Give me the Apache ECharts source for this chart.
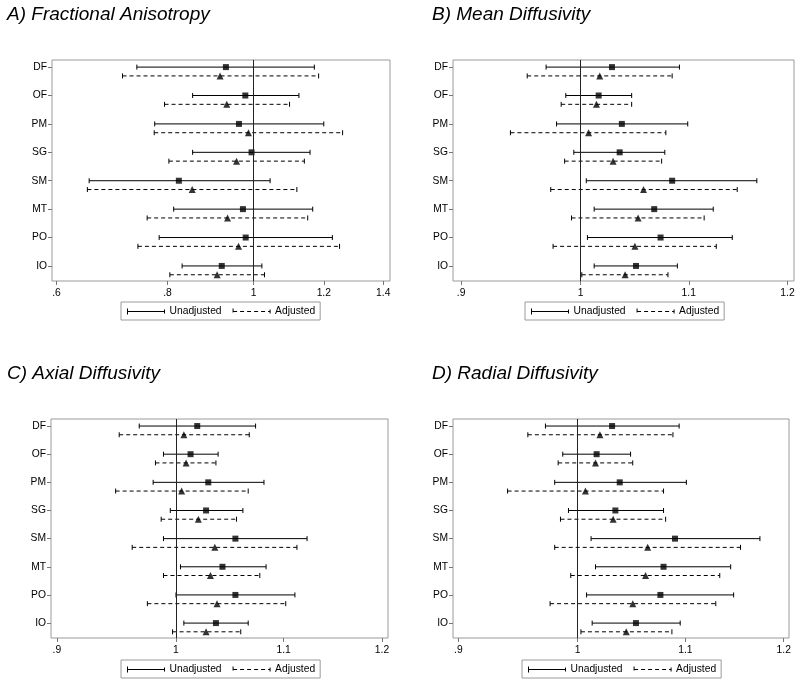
<!DOCTYPE html>
<html><head><meta charset="utf-8">
<script src="https://cdn.jsdelivr.net/npm/echarts@6/dist/echarts.min.js"></script>
<style>html,body{margin:0;padding:0;background:#fff}#c{width:800px;height:685px}</style>
</head><body><div id="c"></div>
<script>
// ---- data ----
const categories = ['DF','OF','PM','SG','SM','MT','PO','IO'];
const legendNames = ['Unadjusted','Adjusted'];
const panelTitles = ['A) Fractional Anisotropy','B) Mean Diffusivity','C) Axial Diffusivity','D) Radial Diffusivity'];
const ticksA = [0.6, 0.8, 1, 1.2, 1.4];
const ticksBCD = [0.9, 1, 1.1, 1.2];
// each row: [estimate, lower CI, upper CI], in category order
const faUnadj = [[0.931,0.739,1.171],[0.979,0.854,1.125],[0.963,0.774,1.200],[0.995,0.854,1.158],[0.824,0.653,1.044],[0.973,0.813,1.166],[0.980,0.783,1.227],[0.921,0.831,1.022]];
const faAdj   = [[0.917,0.712,1.184],[0.933,0.794,1.098],[0.987,0.773,1.260],[0.957,0.803,1.141],[0.853,0.650,1.119],[0.935,0.759,1.151],[0.962,0.741,1.250],[0.910,0.805,1.029]];
const mdUnadj = [[1.028,0.970,1.091],[1.016,0.987,1.046],[1.037,0.979,1.099],[1.035,0.994,1.077],[1.084,1.005,1.168],[1.067,1.012,1.124],[1.073,1.006,1.143],[1.050,1.012,1.089]];
const mdAdj   = [[1.017,0.954,1.084],[1.014,0.983,1.046],[1.007,0.940,1.078],[1.029,0.986,1.074],[1.057,0.974,1.148],[1.052,0.992,1.115],[1.049,0.976,1.127],[1.040,1.001,1.080]];
const adUnadj = [[1.019,0.968,1.073],[1.013,0.989,1.038],[1.029,0.980,1.081],[1.027,0.995,1.061],[1.054,0.989,1.123],[1.042,1.004,1.083],[1.054,1.000,1.111],[1.036,1.007,1.066]];
const adAdj   = [[1.007,0.951,1.067],[1.009,0.982,1.036],[1.005,0.948,1.066],[1.020,0.987,1.055],[1.035,0.962,1.113],[1.031,0.989,1.077],[1.037,0.975,1.102],[1.027,0.997,1.059]];
const rdUnadj = [[1.031,0.972,1.094],[1.017,0.987,1.048],[1.038,0.980,1.101],[1.034,0.992,1.079],[1.090,1.012,1.175],[1.079,1.016,1.145],[1.076,1.008,1.148],[1.053,1.013,1.095]];
const rdAdj   = [[1.020,0.957,1.088],[1.016,0.983,1.050],[1.007,0.940,1.079],[1.032,0.985,1.081],[1.064,0.980,1.155],[1.062,0.994,1.134],[1.050,0.976,1.130],[1.044,1.003,1.087]];

// ---- layout ----
const FONT = '"Liberation Sans", Arial, sans-serif';
const panels = [
  {title: panelTitles[0], un: faUnadj, ad: faAdj, ticks: ticksA, min: 0.5930, max: 1.4248,
   grid: {left: 52, top: 60, width: 338, height: 221}, tl: 7, tt: 5, lg: {left: 121, top: 302}},
  {title: panelTitles[1], un: mdUnadj, ad: mdAdj, ticks: ticksBCD, min: 0.8936, max: 1.2069,
   grid: {left: 453, top: 60, width: 341, height: 221}, tl: 432, tt: 5, lg: {left: 525, top: 302}},
  {title: panelTitles[2], un: adUnadj, ad: adAdj, ticks: ticksBCD, min: 0.8953, max: 1.2064,
   grid: {left: 51, top: 419, width: 337, height: 219}, tl: 7, tt: 364, lg: {left: 121, top: 660}},
  {title: panelTitles[3], un: rdUnadj, ad: rdAdj, ticks: ticksBCD, min: 0.8957, max: 1.2056,
   grid: {left: 453, top: 419, width: 336, height: 219}, tl: 432, tt: 364, lg: {left: 522, top: 660}}
];
const ROW_OFFSET = 0.31;

function makeRender(dashed) {
  return function (params, api) {
    const y = api.value(2);
    const p1 = api.coord([api.value(0), y]);
    const p2 = api.coord([api.value(1), y]);
    const h = 2.5;
    const st = {stroke: '#000', lineWidth: 1};
    return {type: 'group', children: [
      {type: 'line', shape: {x1: p1[0], y1: p1[1], x2: p2[0], y2: p2[1]},
       style: Object.assign({}, st, dashed ? {lineDash: [4, 3]} : {})},
      {type: 'line', shape: {x1: p1[0], y1: p1[1] - h, x2: p1[0], y2: p1[1] + h}, style: st},
      {type: 'line', shape: {x1: p2[0], y1: p2[1] - h, x2: p2[0], y2: p2[1] + h}, style: st}
    ]};
  };
}

const option = {
  animation: false,
  backgroundColor: '#fff',
  title: [], grid: [], xAxis: [], yAxis: [], series: [], legend: []
};

const iconPath = 'path://M0,0L0,6M0,3L37,3M37,1L37,5';

panels.forEach((p, k) => {
  option.title.push({text: p.title, left: p.tl, top: p.tt, padding: 0,
    textStyle: {fontFamily: FONT, fontSize: 19, fontStyle: 'italic', fontWeight: 'normal', color: '#000'}});
  option.grid.push(Object.assign({show: true, borderColor: '#9a9a9a', borderWidth: 1, backgroundColor: '#fff'}, p.grid));
  option.xAxis.push({
    type: 'log', gridIndex: k, min: p.min, max: p.max, position: 'bottom',
    axisLine: {show: false, onZero: false},
    axisTick: {show: true, length: 4, customValues: p.ticks, lineStyle: {color: '#777'}},
    axisLabel: {customValues: p.ticks, margin: 7, fontFamily: FONT, fontSize: 10.3, color: '#000',
      formatter: v => String(+v.toFixed(3)).replace(/^0\./, '.')},
    splitLine: {show: false}, minorTick: {show: false}
  });
  option.yAxis.push({
    type: 'value', gridIndex: k, inverse: true, min: -0.25, max: 7.53, position: 'left',
    axisLine: {show: false, onZero: false},
    axisTick: {show: true, length: 4, customValues: categories.map((c, i) => i), lineStyle: {color: '#777'}},
    axisLabel: {customValues: categories.map((c, i) => i), margin: 5, fontFamily: FONT, fontSize: 10.3, color: '#000',
      formatter: v => categories[Math.round(v)]},
    splitLine: {show: false}
  });
  const unBars = p.un.map((r, i) => [r[1], r[2], i]);
  const adBars = p.ad.map((r, i) => [r[1], r[2], i + ROW_OFFSET]);
  option.series.push({
    name: legendNames[0], type: 'custom', xAxisIndex: k, yAxisIndex: k,
    renderItem: makeRender(false), encode: {x: [0, 1], y: 2}, data: unBars,
    itemStyle: {color: '#000'},
    markLine: {silent: true, symbol: 'none', label: {show: false}, animation: false,
      lineStyle: {color: '#222', width: 1, type: 'solid'}, data: [{xAxis: 1}]}
  });
  option.series.push({
    name: legendNames[1], type: 'custom', xAxisIndex: k, yAxisIndex: k,
    renderItem: makeRender(true), encode: {x: [0, 1], y: 2}, data: adBars,
    itemStyle: {color: '#000'}
  });
  option.series.push({
    name: legendNames[0], type: 'scatter', xAxisIndex: k, yAxisIndex: k, symbol: 'rect', symbolSize: 6,
    itemStyle: {color: '#000'}, z: 3,
    data: p.un.map((r, i) => [r[0], i])
  });
  option.series.push({
    name: legendNames[1], type: 'scatter', xAxisIndex: k, yAxisIndex: k, symbol: 'triangle', symbolSize: 7,
    itemStyle: {color: '#000'}, z: 3,
    data: p.ad.map((r, i) => [r[0], i + ROW_OFFSET])
  });
  option.legend.push({
    left: p.lg.left, top: p.lg.top, orient: 'horizontal', padding: [4, 5, 3, 4], itemGap: 9,
    itemWidth: 37, itemHeight: 6, borderColor: '#9a9a9a', borderWidth: 1, selectedMode: false,
    textStyle: {fontFamily: FONT, fontSize: 10.3, color: '#000'},
    data: [
      {name: legendNames[0], icon: iconPath, itemStyle: {color: 'none', borderColor: '#000', borderWidth: 1, borderType: 'solid'}},
      {name: legendNames[1], icon: iconPath, itemStyle: {color: 'none', borderColor: '#000', borderWidth: 1, borderType: [4, 3]}}
    ]
  });
});

const chart = echarts.init(document.getElementById('c'), null, {renderer: 'canvas'});
chart.setOption(option);
</script>
</body></html>
